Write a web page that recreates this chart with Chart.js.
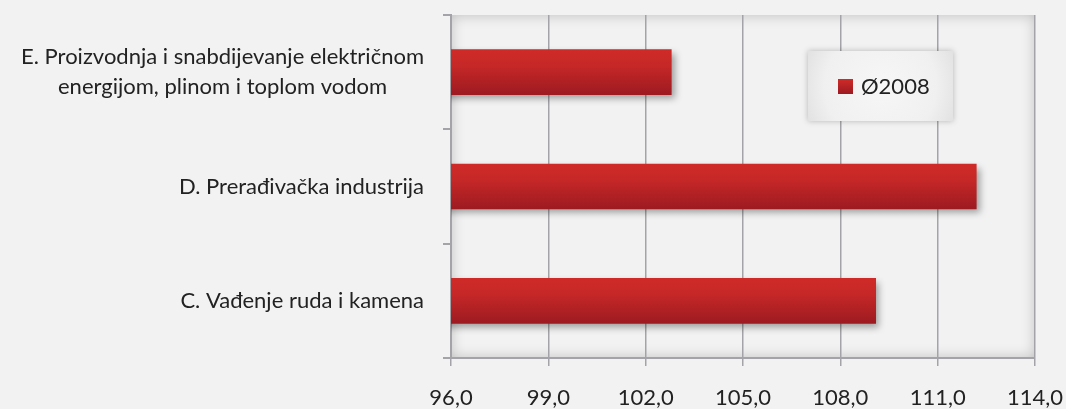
<!DOCTYPE html>
<html>
<head>
<meta charset="utf-8">
<script src="https://cdn.jsdelivr.net/npm/chart.js@4"></script>
<style>
  html, body { margin: 0; padding: 0; background: #f2f2f2; }
  #wrap { width: 1066px; height: 409px; }
</style>
</head>
<body>
<div id="wrap"><canvas id="myChart"></canvas></div>
<script>
// kategorije (odozgo prema dolje) i vrijednosti
var categories = [
  ["E. Proizvodnja i snabdijevanje električnom", "energijom, plinom i toplom vodom"],
  "D. Prerađivačka industrija",
  "C. Vađenje ruda i kamena"
];
var values2008 = [102.8, 112.2, 109.1];
var seriesName = "Ø2008";
var xTicks = [96, 99, 102, 105, 108, 111, 114];

var FONT = "Lato, 'Open Sans', sans-serif";

// gradijent za svaki stupac
function barColor(c) {
  var chart = c.chart;
  var y = chart.scales && chart.scales.y;
  if (!y) return "#c0262a";
  var mid = y.getPixelForValue(c.dataIndex);
  if (mid == null || isNaN(mid)) return "#c0262a";
  var g = chart.ctx.createLinearGradient(0, mid - 23, 0, mid + 23);
  g.addColorStop(0, "#cf2b28");
  g.addColorStop(0.35, "#c62827");
  g.addColorStop(1, "#9c1a21");
  return g;
}

// pozadina plot-a sa unutrasnjom sjenom
var plotBg = {
  id: "plotBg",
  beforeDraw: function(chart) {
    var a = chart.chartArea, ctx = chart.ctx;
    ctx.save();
    ctx.fillStyle = "#f2f2f2";
    ctx.fillRect(a.left, a.top, a.right - a.left, a.bottom - a.top);
    ctx.beginPath();
    ctx.rect(a.left, a.top, a.right - a.left, a.bottom - a.top);
    ctx.clip();
    ctx.beginPath();
    ctx.rect(a.left - 200, a.top - 200, a.right - a.left + 400, a.bottom - a.top + 400);
    ctx.rect(a.left, a.top, a.right - a.left, a.bottom - a.top);
    ctx.shadowColor = "rgba(0,0,0,0.22)";
    ctx.shadowBlur = 14;
    ctx.fillStyle = "#d8d8d8";
    ctx.fill("evenodd");
    ctx.restore();
  }
};

// sjena ispod stupaca
var barShadow = {
  id: "barShadow",
  beforeDatasetsDraw: function(chart) {
    var ctx = chart.ctx;
    ctx.save();
    ctx.shadowColor = "rgba(0,0,0,0.35)";
    ctx.shadowBlur = 7;
    ctx.shadowOffsetX = 3;
    ctx.shadowOffsetY = 4;
  },
  afterDatasetsDraw: function(chart) {
    chart.ctx.restore();
  }
};

// nazivi kategorija: blok desno poravnat, redovi centrirani
var catLabels = {
  id: "catLabels",
  afterDraw: function(chart) {
    var ctx = chart.ctx, ys = chart.scales.y;
    var right = 424, lh = 30;
    ctx.save();
    ctx.font = "22px " + FONT;
    ctx.fillStyle = "#222";
    ctx.textAlign = "center";
    ctx.textBaseline = "middle";
    chart.data.labels.forEach(function(lab, i) {
      var lines = Array.isArray(lab) ? lab : [lab];
      var w = 0;
      lines.forEach(function(t) { w = Math.max(w, ctx.measureText(t).width); });
      var cx = right - w / 2;
      var mid = ys.getPixelForValue(i);
      lines.forEach(function(t, j) {
        ctx.fillText(t, cx, mid + (j - (lines.length - 1) / 2) * lh);
      });
    });
    ctx.restore();
  }
};

// legenda unutar grafikona
var boxLegend = {
  id: "boxLegend",
  afterDraw: function(chart) {
    var ctx = chart.ctx;
    var x = 808, y = 51, w = 145, h = 70;
    ctx.save();
    ctx.shadowColor = "rgba(0,0,0,0.25)";
    ctx.shadowBlur = 6;
    ctx.fillStyle = "#e6e6e6";
    ctx.fillRect(x, y, w, h);
    ctx.restore();
    ctx.save();
    var g = ctx.createRadialGradient(x + w / 2, y + h / 2, 5, x + w / 2, y + h / 2, w * 0.62);
    g.addColorStop(0, "#f6f6f6");
    g.addColorStop(0.6, "#f0f0f0");
    g.addColorStop(1, "#dcdcdc");
    ctx.fillStyle = g;
    ctx.fillRect(x, y, w, h);
    var sg = ctx.createLinearGradient(0, 79, 0, 94);
    sg.addColorStop(0, "#cf2b28");
    sg.addColorStop(1, "#9c1a21");
    ctx.fillStyle = sg;
    ctx.fillRect(838, 79, 15, 15);
    ctx.fillStyle = "#222";
    ctx.font = "22px " + FONT;
    ctx.textBaseline = "middle";
    ctx.fillText(chart.data.datasets[0].label, 861, 87);
    ctx.restore();
  }
};

new Chart(document.getElementById("myChart"), {
  type: "bar",
  data: {
    labels: categories,
    datasets: [{
      label: seriesName,
      data: values2008,
      backgroundColor: barColor,
      borderWidth: 0,
      barPercentage: 0.4,
      categoryPercentage: 1
    }]
  },
  options: {
    indexAxis: "y",
    responsive: true,
    maintainAspectRatio: false,
    animation: false,
    layout: { padding: { top: 15, right: 31, left: 0, bottom: 0 } },
    plugins: {
      legend: { display: false },
      tooltip: { enabled: false }
    },
    scales: {
      x: {
        min: 96,
        max: 114,
        afterBuildTicks: function(scale) {
          scale.ticks = xTicks.map(function(v) { return { value: v }; });
        },
        afterFit: function(scale) {
          scale.height = 51;
          scale.paddingLeft = 0;
          scale.paddingRight = 0;
        },
        ticks: {
          color: "#222",
          font: { family: FONT, size: 22 },
          padding: 19,
          maxRotation: 0,
          callback: function(v) { return v.toFixed(1).replace(".", ","); }
        },
        grid: { color: "#a4a4a8", lineWidth: 1.5, tickLength: 8 },
        border: { color: "#a4a4a8", width: 2 }
      },
      y: {
        afterFit: function(scale) {
          scale.width = 451;
          scale.paddingTop = 0;
          scale.paddingBottom = 0;
        },
        ticks: { display: false },
        grid: { drawOnChartArea: false, color: "#a4a4a8", lineWidth: 2, tickLength: 8 },
        border: { color: "#a4a4a8", width: 2 }
      }
    }
  },
  plugins: [plotBg, barShadow, catLabels, boxLegend]
});
</script>
</body>
</html>
